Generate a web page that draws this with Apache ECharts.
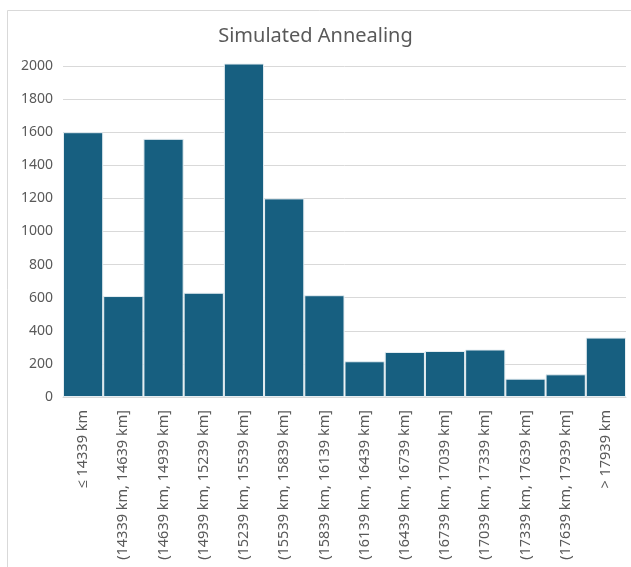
<!DOCTYPE html>
<html>
<head>
<meta charset="utf-8">
<script src="https://cdn.jsdelivr.net/npm/echarts@6/dist/echarts.min.js"></script>
<style>
  html, body { margin: 0; padding: 0; background: #fff; }
  #chart { width: 631px; height: 567px; }
</style>
</head>
<body>
<div id="chart"></div>
<script>
// Histogram bins of tour length and their counts
const categories = [
  '≤ 14339 km',
  '(14339 km, 14639 km]',
  '(14639 km, 14939 km]',
  '(14939 km, 15239 km]',
  '(15239 km, 15539 km]',
  '(15539 km, 15839 km]',
  '(15839 km, 16139 km]',
  '(16139 km, 16439 km]',
  '(16439 km, 16739 km]',
  '(16739 km, 17039 km]',
  '(17039 km, 17339 km]',
  '(17339 km, 17639 km]',
  '(17639 km, 17939 km]',
  '> 17939 km'
];
const counts = [1600, 610, 1560, 630, 2015, 1200, 615, 216, 272, 278, 287, 111, 137, 359];
const yTicks = { min: 0, max: 2000, interval: 200 };

const chart = echarts.init(document.getElementById('chart'));
const font = 'Noto Sans, Open Sans, sans-serif';
chart.setOption({
  animation: false,
  backgroundColor: '#ffffff',
  textStyle: { fontFamily: font },
  graphic: [{
    type: 'rect',
    shape: { x: 7.5, y: 10.5, width: 640, height: 600 },
    style: { fill: 'none', stroke: '#d9d9d9', lineWidth: 1 },
    silent: true
  }],
  title: {
    text: 'Simulated Annealing',
    left: 'center',
    top: 21,
    textStyle: { fontFamily: font, fontSize: 20, fontWeight: 'normal', color: '#595959' }
  },
  grid: { left: 63, right: 5, top: 66, bottom: 170, containLabel: false },
  xAxis: {
    type: 'category',
    data: categories,
    axisLine: { show: true, lineStyle: { color: '#d9d9d9', width: 1 } },
    axisTick: { show: false },
    axisLabel: {
      interval: 0,
      rotate: 90,
      margin: 13,
      color: '#595959',
      fontSize: 14.5,
      fontFamily: font
    }
  },
  yAxis: {
    type: 'value',
    min: yTicks.min,
    max: yTicks.max,
    interval: yTicks.interval,
    axisLine: { show: false },
    axisTick: { show: false },
    splitLine: { lineStyle: { color: '#d9d9d9', width: 1 } },
    axisLabel: {
      color: '#595959', fontSize: 14, fontFamily: font, margin: 10,
      formatter: v => String(v)
    }
  },
  series: [{
    type: 'bar',
    data: counts,
    clip: false,
    barCategoryGap: 0,
    itemStyle: { color: '#175f80', borderColor: '#e6eef2', borderWidth: 1 }
  }]
});
</script>
</body>
</html>
